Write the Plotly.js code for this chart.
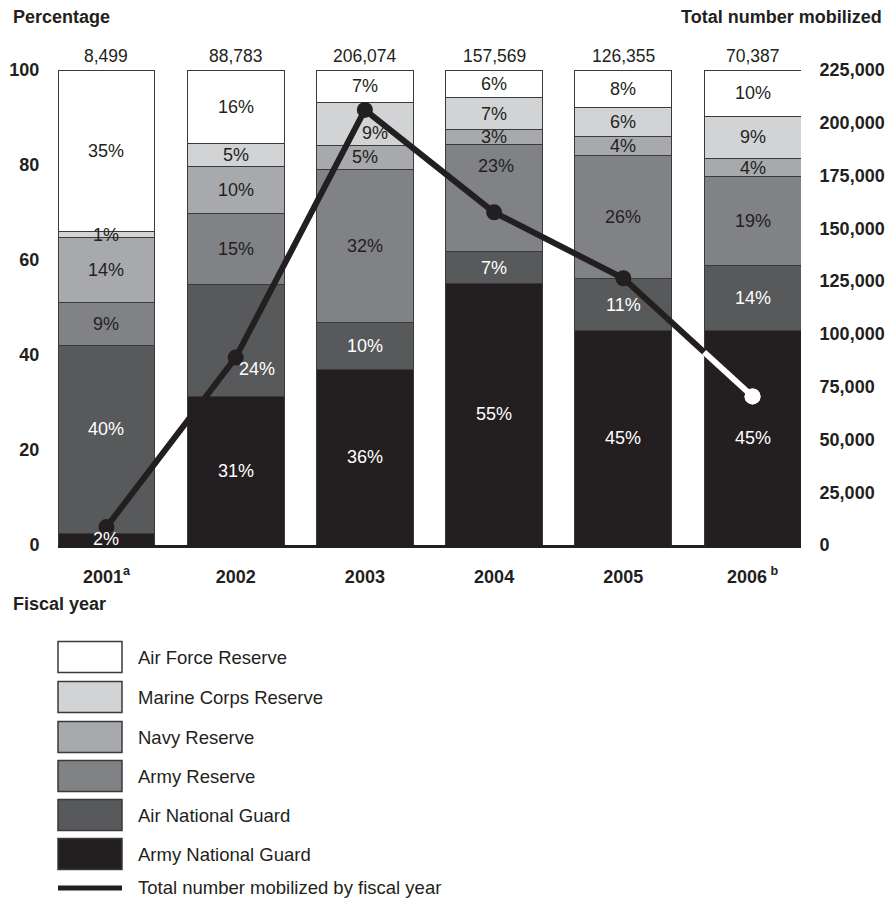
<!DOCTYPE html>
<html>
<head>
<meta charset="utf-8">
<script src="https://cdn.plot.ly/plotly-3.0.1.min.js"></script>
<style>
html,body{margin:0;padding:0;background:#ffffff;}
#chart{width:894px;height:901px;}
</style>
</head>
<body>
<div id="chart"></div>
<script>
// ---------------- data ----------------
const yearLabels = ['2001<sup>a</sup>', '2002', '2003', '2004', '2005', '2006<sup> b</sup>'];
const totals = [8499, 88783, 206074, 157569, 126355, 70387];

// segment heights (percent of bar), bottom to top
const armyNG   = [2.5, 31.2, 37.0, 55.1, 45.1, 45.1];
const airNG    = [39.6, 23.7, 9.9, 6.6, 11.0, 13.7];
const armyRes  = [8.9, 14.9, 32.2, 22.7, 26.0, 18.7];
const navyRes  = [13.8, 9.8, 5.0, 3.0, 4.0, 3.9];
const marineRes= [1.1, 5.0, 9.0, 6.8, 6.0, 8.9];
const airForce = [34.1, 15.4, 6.9, 5.8, 7.9, 9.7];

// printed percentage labels
const armyNGPct    = [2, 31, 36, 55, 45, 45];
const airNGPct     = [40, 24, 10, 7, 11, 14];
const armyResPct   = [9, 15, 32, 23, 26, 19];
const navyResPct   = [14, 10, 5, 3, 4, 4];
const marineResPct = [1, 5, 9, 7, 6, 9];
const airForcePct  = [35, 16, 7, 6, 8, 10];

const seriesNames = ['Army National Guard', 'Air National Guard', 'Army Reserve', 'Navy Reserve', 'Marine Corps Reserve', 'Air Force Reserve'];

// ---------------- styling ----------------
const INK = '#231f20';
const FONT = 'Liberation Sans, Arial, Helvetica, sans-serif';
const series = [
  {key: 'armyNG',   name: seriesNames[0], h: armyNG,    p: armyNGPct,    color: '#231f20', text: '#ffffff'},
  {key: 'airNG',    name: seriesNames[1], h: airNG,     p: airNGPct,     color: '#58595b', text: '#ffffff'},
  {key: 'armyRes',  name: seriesNames[2], h: armyRes,   p: armyResPct,   color: '#808285', text: INK},
  {key: 'navy',     name: seriesNames[3], h: navyRes,   p: navyResPct,   color: '#a7a9ac', text: INK},
  {key: 'marine',   name: seriesNames[4], h: marineRes, p: marineResPct, color: '#d1d3d4', text: INK},
  {key: 'airForce', name: seriesNames[5], h: airForce,  p: airForcePct,  color: '#ffffff', text: INK}
];
const nudge = { 'airNG-0': [0, 10], 'airNG-1': [21, -28], 'marine-2': [10, -9], 'armyRes-3': [2, 32] };

const xs = totals.map((_, i) => i);
const BARW = 0.75;

const traces = [];
series.forEach(s => {
  traces.push({
    type: 'bar', x: xs, y: s.h, name: s.name, width: BARW,
    marker: {color: s.color, line: {color: '#3a3a3a', width: 1}},
    hoverinfo: 'skip', showlegend: false
  });
});

// total line on secondary axis
traces.push({
  type: 'scatter', mode: 'lines+markers', x: xs, y: totals, yaxis: 'y2',
  line: {color: INK, width: 6},
  marker: {size: 16, color: totals.map((_, i) => i === totals.length - 1 ? '#ffffff' : INK)},
  hoverinfo: 'skip', showlegend: false
});
// white part of the line where it runs over the black bar of the last year
(function () {
  const n = totals.length;
  const xEdge = (n - 1) - BARW / 2;
  const t = (xEdge - (n - 2));
  const yEdge = totals[n - 2] + (totals[n - 1] - totals[n - 2]) * t;
  traces.push({
    type: 'scatter', mode: 'lines', x: [xEdge, n - 1], y: [yEdge, totals[n - 1]], yaxis: 'y2',
    line: {color: '#ffffff', width: 6}, hoverinfo: 'skip', showlegend: false
  });
  traces.push({
    type: 'scatter', mode: 'markers', x: [n - 1], y: [totals[n - 1]], yaxis: 'y2',
    marker: {size: 16, color: '#ffffff'}, hoverinfo: 'skip', showlegend: false
  });
})();

// ---------------- annotations ----------------
const annotations = [];
const base = xs.map(() => 0);
series.forEach(s => {
  s.h.forEach((h, i) => {
    const nd = nudge[s.key + '-' + i] || [0, 0];
    annotations.push({
      x: i, y: base[i] + h / 2, xref: 'x', yref: 'y', text: s.p[i] + '%',
      showarrow: false, xshift: nd[0], yshift: nd[1],
      font: {family: FONT, size: 18, color: s.text}
    });
    base[i] += h;
  });
});
totals.forEach((t, i) => {
  annotations.push({
    x: i, y: 100, xref: 'x', yref: 'y', yanchor: 'bottom', yshift: 2,
    text: t.toLocaleString('en-US'), showarrow: false,
    font: {family: FONT, size: 17.5, color: INK}
  });
});

// pixel -> paper helpers (plot area: x 58..801, y 70..545)
const L = 58, R = 801, T = 70, B = 545;
const px = v => (v - L) / (R - L);
const py = v => (B - v) / (B - T);

annotations.push({xref: 'paper', yref: 'paper', x: px(11), y: py(17), xanchor: 'left', yanchor: 'middle',
  text: '<b>Percentage</b>', showarrow: false, font: {family: FONT, size: 18, color: INK}});
annotations.push({xref: 'paper', yref: 'paper', x: px(884), y: py(17), xanchor: 'right', yanchor: 'middle',
  text: '<b>Total number mobilized</b>', showarrow: false, font: {family: FONT, size: 18, color: INK}});
annotations.push({xref: 'paper', yref: 'paper', x: px(11), y: py(604), xanchor: 'left', yanchor: 'middle',
  text: '<b>Fiscal year</b>', showarrow: false, font: {family: FONT, size: 18, color: INK}});

// manual legend
const shapes = [];
const legendOrder = series.slice().reverse();
const rowY = [657, 697, 737, 776, 815, 854];
legendOrder.forEach((s, k) => {
  const cy = rowY[k];
  shapes.push({type: 'rect', xref: 'paper', yref: 'paper', x0: px(58), x1: px(122), y0: py(cy - 15.5), y1: py(cy + 15.5),
    fillcolor: s.color, line: {color: '#3a3a3a', width: 1.5}});
  annotations.push({xref: 'paper', yref: 'paper', x: px(136), y: py(cy), xanchor: 'left', yanchor: 'middle',
    text: s.name, showarrow: false, font: {family: FONT, size: 18.5, color: INK}});
});
shapes.push({type: 'line', xref: 'paper', yref: 'paper', x0: px(58), x1: px(122), y0: py(888), y1: py(888),
  line: {color: INK, width: 5}});
annotations.push({xref: 'paper', yref: 'paper', x: px(136), y: py(888), xanchor: 'left', yanchor: 'middle',
  text: 'Total number mobilized by fiscal year', showarrow: false, font: {family: FONT, size: 18.5, color: INK}});

const layout = {
  width: 894, height: 901,
  margin: {l: L, r: 894 - R, t: T, b: 901 - B, pad: 0},
  paper_bgcolor: '#ffffff', plot_bgcolor: '#ffffff',
  barmode: 'stack', showlegend: false,
  font: {family: FONT, color: INK},
  xaxis: {
    range: [-BARW / 2, xs.length - 1 + BARW / 2], tickvals: xs, ticktext: yearLabels,
    showgrid: false, zeroline: false, showline: true, linecolor: INK, linewidth: 3,
    ticks: 'outside', ticklen: 13, tickcolor: 'rgba(0,0,0,0)',
    tickfont: {family: FONT, size: 18, color: INK, weight: 'bold'}, fixedrange: true
  },
  yaxis: {
    range: [0, 100], dtick: 20, showgrid: false, zeroline: false, showline: false,
    ticks: 'outside', ticklen: 14, tickcolor: 'rgba(0,0,0,0)',
    tickfont: {family: FONT, size: 18, color: INK, weight: 'bold'}, fixedrange: true
  },
  yaxis2: {
    overlaying: 'y', side: 'right', range: [0, 225000], dtick: 25000, tickformat: ',',
    showgrid: false, zeroline: false, showline: false,
    ticks: 'outside', ticklen: 14, tickcolor: 'rgba(0,0,0,0)',
    tickfont: {family: FONT, size: 18, color: INK, weight: 'bold'}, fixedrange: true
  },
  annotations: annotations,
  shapes: shapes
};

Plotly.newPlot('chart', traces, layout, {displayModeBar: false, staticPlot: true});
</script>
</body>
</html>
